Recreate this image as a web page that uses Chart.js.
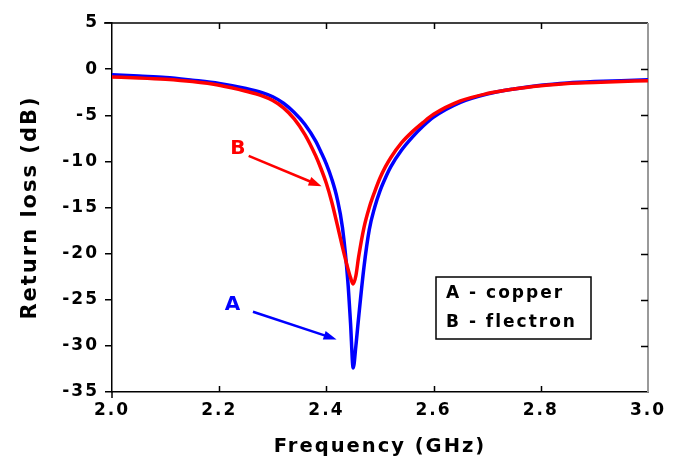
<!DOCTYPE html>
<html><head><meta charset="utf-8">
<script src="https://cdn.jsdelivr.net/npm/chart.js@4.4.0/dist/chart.umd.min.js"></script>
<style>html,body{margin:0;padding:0;background:#fff;overflow:hidden}canvas{display:block}</style>
</head><body>
<canvas id="c" width="679" height="459"></canvas>
<script>
const freq = [2.00,2.05,2.10,2.15,2.20,2.25,2.28,2.30,2.32,2.34,2.36,2.38,2.39,2.40,2.41,2.42,2.43,2.44,2.445,2.45,2.455,2.46,2.47,2.48,2.49,2.50,2.51,2.52,2.54,2.56,2.58,2.60,2.65,2.70,2.75,2.80,2.85,2.90,2.95,3.00];
const copper = [-0.6,-0.75,-0.9,-1.2,-1.55,-2.1,-2.55,-3.0,-3.7,-4.7,-6.0,-7.8,-9.0,-10.3,-11.9,-14.0,-17.2,-23.0,-27.5,-32.4,-30.0,-27.0,-21.5,-17.4,-15.0,-13.2,-11.8,-10.6,-8.8,-7.4,-6.2,-5.2,-3.6,-2.7,-2.15,-1.75,-1.5,-1.35,-1.25,-1.15];
const flectron = [-0.85,-0.95,-1.1,-1.35,-1.75,-2.4,-2.9,-3.4,-4.2,-5.4,-7.1,-9.4,-10.8,-12.4,-14.4,-16.8,-19.3,-21.6,-22.6,-23.3,-22.4,-20.4,-17.2,-15.0,-13.3,-11.8,-10.6,-9.6,-8.0,-6.8,-5.8,-4.9,-3.45,-2.65,-2.15,-1.8,-1.55,-1.45,-1.35,-1.25];
const xTickValues = [2.0,2.2,2.4,2.6,2.8,3.0];
const yTickValues = [5,0,-5,-10,-15,-20,-25,-30,-35];
const legendLines = ['A - copper','B - flectron'];
const labelA = {text:'A', x:2.225, y:-25.6, from:[2.263,-26.3], to:[2.419,-29.3]};
const labelB = {text:'B', x:2.235, y:-8.6, from:[2.255,-9.4], to:[2.391,-12.7]};

const FONT = '"DejaVu Sans", Verdana, sans-serif';
const SP = '2px';

const spacing = {
  id:'spacing',
  beforeUpdate(c){ c.ctx.letterSpacing = SP; },
  beforeDraw(c){ c.ctx.letterSpacing = SP; }
};

function arrow(ctx, x0, y0, x1, y1, color){
  const a = Math.atan2(y1-y0, x1-x0);
  const L = 13, W = 4.5;
  ctx.strokeStyle = color; ctx.fillStyle = color; ctx.lineWidth = 2.5;
  ctx.beginPath(); ctx.moveTo(x0,y0);
  ctx.lineTo(x1 - L*0.8*Math.cos(a), y1 - L*0.8*Math.sin(a)); ctx.stroke();
  ctx.beginPath();
  ctx.moveTo(x1,y1);
  ctx.lineTo(x1 - L*Math.cos(a) + W*Math.sin(a), y1 - L*Math.sin(a) - W*Math.cos(a));
  ctx.lineTo(x1 - L*Math.cos(a) - W*Math.sin(a), y1 - L*Math.sin(a) + W*Math.cos(a));
  ctx.closePath(); ctx.fill();
}

const frame = {
  id:'frame',
  beforeDatasetsDraw(c){
    const {ctx, chartArea:a, scales:{x, y}} = c;
    ctx.save();
    ctx.lineWidth = 1.5;
    ctx.strokeStyle = '#000';
    ctx.beginPath(); ctx.moveTo(a.left-8, a.top); ctx.lineTo(a.right, a.top); ctx.stroke();
    ctx.strokeStyle = '#9a9a9a'; ctx.lineWidth = 2;
    ctx.beginPath(); ctx.moveTo(a.right, a.top); ctx.lineTo(a.right, a.bottom); ctx.stroke();
    ctx.strokeStyle = '#000'; ctx.lineWidth = 1.5;
    ctx.beginPath();
    x.ticks.forEach(t => {
      if (t.value <= x.min || t.value >= x.max) return;
      const px = Math.round(x.getPixelForValue(t.value)) + 0.5;
      ctx.moveTo(px, a.bottom); ctx.lineTo(px, a.bottom - 6);
      ctx.moveTo(px, a.top); ctx.lineTo(px, a.top + 6);
    });
    y.ticks.forEach(t => {
      if (t.value <= y.min || t.value >= y.max) return;
      const py = Math.round(y.getPixelForValue(t.value)) + 0.5;
      ctx.moveTo(a.right, py); ctx.lineTo(a.right - 7, py);
    });
    ctx.moveTo(a.left, a.bottom); ctx.lineTo(a.left, a.bottom + 6);
    ctx.stroke();
    ctx.restore();
  },
  afterDraw(c){
    const {ctx, scales:{x, y}} = c;
    ctx.save();
    ctx.letterSpacing = SP;
    [[labelB,'#ff0000'],[labelA,'#0000ff']].forEach(([l,col]) => {
      ctx.font = 'bold 20px ' + FONT;
      ctx.fillStyle = col; ctx.textAlign = 'center'; ctx.textBaseline = 'middle';
      ctx.fillText(l.text, x.getPixelForValue(l.x) + 1, y.getPixelForValue(l.y));
      arrow(ctx, x.getPixelForValue(l.from[0]), y.getPixelForValue(l.from[1]),
                 x.getPixelForValue(l.to[0]), y.getPixelForValue(l.to[1]), col);
    });
    const bx = 436, by = 277, bw = 155, bh = 62;
    ctx.fillStyle = '#fff'; ctx.fillRect(bx, by, bw, bh);
    ctx.strokeStyle = '#000'; ctx.lineWidth = 1.5; ctx.strokeRect(bx, by, bw, bh);
    ctx.fillStyle = '#000'; ctx.font = 'bold 17px ' + FONT;
    ctx.textAlign = 'left'; ctx.textBaseline = 'middle';
    legendLines.forEach((t, i) => ctx.fillText(t, bx + 10, by + 17 + i*29));
    ctx.restore();
  }
};

new Chart(document.getElementById('c'), {
  type:'scatter',
  data:{
    datasets:[
      {label:'B - flectron', data:freq.map((f,i)=>({x:f, y:flectron[i]})), borderColor:'#ff0000', backgroundColor:'#ff0000', borderWidth:3.5, showLine:true, pointRadius:0, cubicInterpolationMode:'monotone'},
      {label:'A - copper', data:freq.map((f,i)=>({x:f, y:copper[i]})), borderColor:'#0000ff', backgroundColor:'#0000ff', borderWidth:3.5, showLine:true, pointRadius:0, cubicInterpolationMode:'monotone'}
    ]
  },
  options:{
    responsive:false, animation:false, devicePixelRatio:1,
    layout:{padding:{left:0, top:23, right:31, bottom:0}},
    plugins:{legend:{display:false}, tooltip:{enabled:false}},
    scales:{
      x:{
        type:'linear', min:2.0, max:3.0,
        afterBuildTicks: s => { s.ticks = xTickValues.map(v=>({value:v})); },
        afterFit: s => { s.height = 67; },
        grid:{display:false, drawTicks:false},
        border:{display:true, color:'#000', width:1.5},
        ticks:{color:'#000', padding:8, maxRotation:0, autoSkip:false, font:{family:FONT, size:17, weight:'bold'}, callback:v=>v.toFixed(1)},
        title:{display:true, text:'Frequency (GHz)', color:'#000', padding:{top:0,bottom:0}, font:{family:FONT, size:19.5, weight:'bold'}}
      },
      y:{
        type:'linear', min:-35, max:5,
        afterBuildTicks: s => { s.ticks = yTickValues.map(v=>({value:v})); },
        afterFit: s => { s.width = 112; },
        grid:{display:true, drawOnChartArea:false, drawTicks:true, tickLength:7, color:'#000', lineWidth:1.5},
        border:{display:true, color:'#000', width:1.5},
        ticks:{color:'#000', padding:6, autoSkip:false, font:{family:FONT, size:17, weight:'bold'}, callback:v=>String(v)},
        title:{display:true, text:'Return loss (dB)', color:'#000', padding:{top:18,bottom:0}, font:{family:FONT, size:21, weight:'bold'}}
      }
    }
  },
  plugins:[spacing, frame]
});
</script>
</body></html>
